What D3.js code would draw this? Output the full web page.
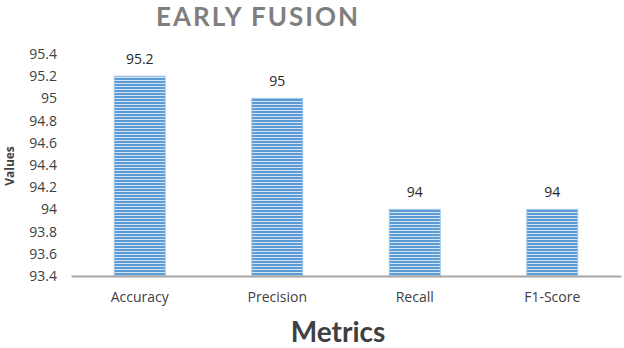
<!DOCTYPE html>
<html>
<head>
<meta charset="utf-8">
<script src="https://cdnjs.cloudflare.com/ajax/libs/d3/7.8.2/d3.min.js"></script>
<style>
  body { margin: 0; background: #fff; }
  svg { display: block; font-family: "Open Sans", Lato, sans-serif; }
</style>
</head>
<body>
<svg id="chart" width="624" height="348"></svg>
<script>
// data
const categories = ["Accuracy", "Precision", "Recall", "F1-Score"];
const values = [95.2, 95, 94, 94];
const yTicks = [93.4, 93.6, 93.8, 94, 94.2, 94.4, 94.6, 94.8, 95, 95.2, 95.4];

const svg = d3.select("#chart");
const W = 624, H = 348;
const m = { left: 71, right: 3, top: 54, bottom: 72 };

const x = d3.scaleBand()
  .domain(categories)
  .range([m.left, W - m.right])
  .paddingInner(0.63)
  .paddingOuter(0.315);

const y = d3.scaleLinear()
  .domain([93.4, 95.4])
  .range([H - m.bottom, m.top]);

// stripe fill for the bars
const defs = svg.append("defs");
const pat = defs.append("pattern")
  .attr("id", "stripes")
  .attr("patternUnits", "userSpaceOnUse")
  .attr("width", 4).attr("height", 3);
pat.append("rect").attr("width", 4).attr("height", 3).attr("fill", "#5b9bd5");
pat.append("rect").attr("y", 2).attr("width", 4).attr("height", 1).attr("fill", "#d6e5f4");

// title
svg.append("text")
  .attr("x", 258).attr("y", 26)
  .attr("text-anchor", "middle")
  .attr("fill", "#7f7f7f")
  .style("font-family", "Lato, sans-serif")
  .style("font-size", "26px")
  .style("font-weight", "bold")
  .style("letter-spacing", "2px")
  .text("EARLY FUSION");

// y axis (labels only)
const yAxis = svg.append("g")
  .attr("transform", `translate(${m.left - 14},0)`)
  .call(d3.axisLeft(y).tickValues(yTicks).tickSize(0).tickPadding(0).tickFormat(d3.format("~")));
yAxis.select(".domain").remove();
yAxis.selectAll("text")
  .attr("fill", "#404040")
  .style("font-size", "14px")
  .style("font-family", "'Open Sans', Lato, sans-serif");

svg.append("text")
  .attr("transform", `translate(14,${166}) rotate(-90)`)
  .attr("text-anchor", "middle")
  .attr("fill", "#404040")
  .style("font-size", "12px")
  .style("font-weight", "bold")
  .text("Values");

// bars
svg.selectAll("rect.bar")
  .data(values)
  .join("rect")
  .attr("class", "bar")
  .attr("x", (d, i) => x(categories[i]))
  .attr("y", d => y(d))
  .attr("width", x.bandwidth())
  .attr("height", d => y(93.4) - y(d))
  .attr("fill", "url(#stripes)")
  .attr("stroke", "#9dc3e6")
  .attr("stroke-width", 1);

// value labels
svg.selectAll("text.val")
  .data(values)
  .join("text")
  .attr("class", "val")
  .attr("x", (d, i) => x(categories[i]) + x.bandwidth() / 2)
  .attr("y", d => y(d) - 12)
  .attr("text-anchor", "middle")
  .attr("fill", "#262626")
  .style("font-size", "14px")
  .text(d => d3.format("~")(d));

// x axis
const xAxis = svg.append("g")
  .attr("transform", `translate(0,${H - m.bottom})`)
  .call(d3.axisBottom(x).tickSize(0).tickPadding(16));
xAxis.select(".domain").attr("stroke", "#a6a6a6").attr("stroke-width", 2);
xAxis.selectAll("text")
  .attr("fill", "#404040")
  .style("font-size", "14px")
  .style("font-family", "'Open Sans', Lato, sans-serif");

svg.append("text")
  .attr("x", 338).attr("y", 342)
  .attr("text-anchor", "middle")
  .attr("fill", "#404040")
  .style("font-family", "Lato, sans-serif")
  .style("font-size", "28px")
  .style("font-weight", "bold")
  .text("Metrics");
</script>
</body>
</html>
